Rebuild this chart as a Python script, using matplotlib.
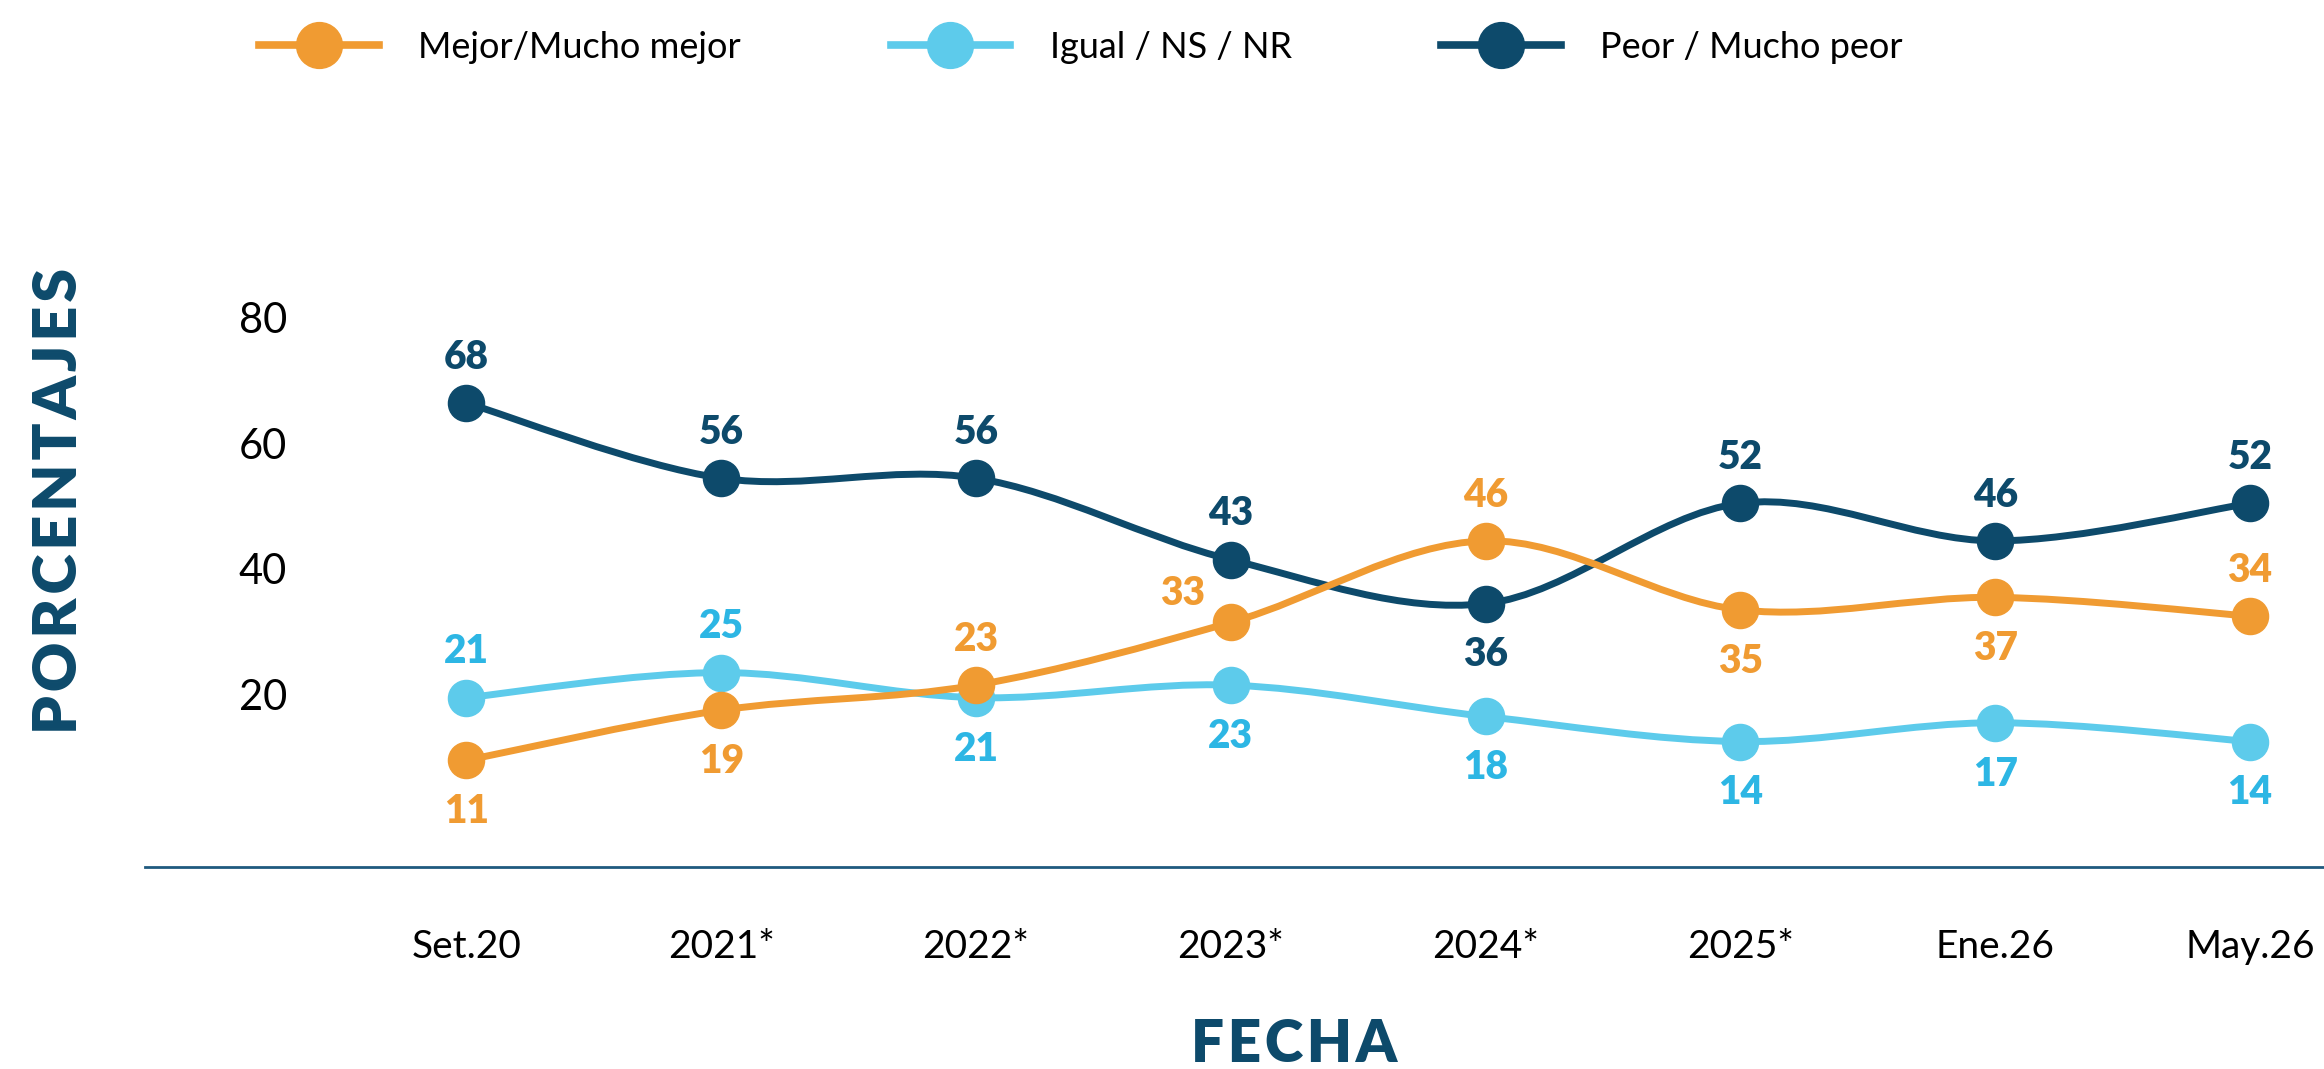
import matplotlib
matplotlib.use('Agg')
import matplotlib.pyplot as plt
from matplotlib.path import Path
from matplotlib.patches import PathPatch
from matplotlib.lines import Line2D
from matplotlib.transforms import ScaledTranslation

# Datos
fechas = ["Set.20", "2021*", "2022*", "2023*", "2024*", "2025*", "Ene.26", "May.26"]
mejor = [11, 19, 23, 33, 46, 35, 37, 34]
igual = [21, 25, 21, 23, 18, 14, 17, 14]
peor = [68, 56, 56, 43, 36, 52, 46, 52]

# posicion de las etiquetas: 'a' arriba, 'b' abajo, 'i' arriba-izquierda
pos_mejor = ['b', 'b', 'a', 'i', 'a', 'b', 'b', 'a']
pos_igual = ['a', 'a', 'b', 'b', 'b', 'b', 'b', 'b']
pos_peor = ['a', 'a', 'a', 'a', 'b', 'a', 'a', 'a']

NARANJA = '#F09B32'
CELESTE = '#5DCBEB'
CELESTE_TXT = '#2DB6E4'
AZUL = '#0D4A6B'

plt.rcParams['font.family'] = ['Lato', 'DejaVu Sans']


# Curva suave tipo Catmull-Rom a traves de los puntos
def spline_path(xs, ys):
    pts = list(zip(xs, ys))
    n = len(pts)
    verts = [pts[0]]
    codes = [Path.MOVETO]
    for i in range(n - 1):
        p0 = pts[i - 1] if i > 0 else pts[i]
        p1 = pts[i]
        p2 = pts[i + 1]
        p3 = pts[i + 2] if i + 2 < n else pts[i + 1]
        c1 = (p1[0] + (p2[0] - p0[0]) / 6, p1[1] + (p2[1] - p0[1]) / 6)
        c2 = (p2[0] - (p3[0] - p1[0]) / 6, p2[1] - (p3[1] - p1[1]) / 6)
        verts += [c1, c2, p2]
        codes += [Path.CURVE4] * 3
    return Path(verts, codes)


fig = plt.figure(figsize=(23.24, 10.69), dpi=100)
ax = fig.add_axes([0.0625, 0.189, 0.9375, 0.603])
x = list(range(len(fechas)))

series = [
    (igual, CELESTE, CELESTE_TXT, pos_igual, 2),
    (peor, AZUL, AZUL, pos_peor, 3),
    (mejor, NARANJA, NARANJA, pos_mejor, 4),
]
offsets = {'a': (0, 33), 'b': (0, -37), 'i': (-35, 21)}

for vals, color, tcolor, posiciones, z in series:
    ax.add_patch(PathPatch(spline_path(x, vals), fill=False, edgecolor=color,
                           linewidth=5, capstyle='round', joinstyle='round', zorder=z))
    ax.plot(x, vals, 'o', color=color, markersize=26, zorder=z, clip_on=False)
    for xi, v, p in zip(x, vals, posiciones):
        ax.annotate(str(v), (xi, v), xytext=offsets[p], textcoords='offset points',
                    ha='center', va='center', fontsize=28, fontweight='heavy',
                    color=tcolor, zorder=5)

ax.set_xlim(-1.26, 7.29)
ax.set_ylim(-6, 96.8)
ax.set_xticks(x)
ax.set_xticklabels(fechas, fontsize=28)
ax.set_yticks([20, 40, 60, 80])
ax.set_yticklabels(['20', '40', '60', '80'], fontsize=30)
ax.tick_params(axis='x', length=0, pad=45)
ax.tick_params(axis='y', length=0, pad=-102)
for lab in ax.get_yticklabels():
    lab.set_transform(lab.get_transform() + ScaledTranslation(0, 7 / 72, fig.dpi_scale_trans))

for s in ['left', 'top', 'right']:
    ax.spines[s].set_visible(False)
ax.spines['bottom'].set_color('#1F5A7F')
ax.spines['bottom'].set_linewidth(2)

fig.text(0.0255, 0.531, "\u200a".join("PORCENTAJES"), rotation=90, ha='center', va='center',
         fontsize=44, fontweight='heavy', color=AZUL)
fig.text(0.557, 0.0225, "\u200a".join("FECHA"), ha='center', va='center',
         fontsize=42, fontweight='heavy', color=AZUL)

handles = [
    Line2D([], [], color=NARANJA, lw=5.5, marker='o', markersize=33),
    Line2D([], [], color=CELESTE, lw=5.5, marker='o', markersize=33),
    Line2D([], [], color=AZUL, lw=5.5, marker='o', markersize=33),
]
fig.legend(handles, ["Mejor/Mucho mejor", "Igual / NS / NR", "Peor / Mucho peor"],
           loc='center left', bbox_to_anchor=(0.1116, 0.9556), ncol=3, frameon=False,
           fontsize=26, handlelength=3.3, handletextpad=1.1, columnspacing=4.15,
           borderpad=0, borderaxespad=0)

fig.savefig('out.png', dpi=100)
